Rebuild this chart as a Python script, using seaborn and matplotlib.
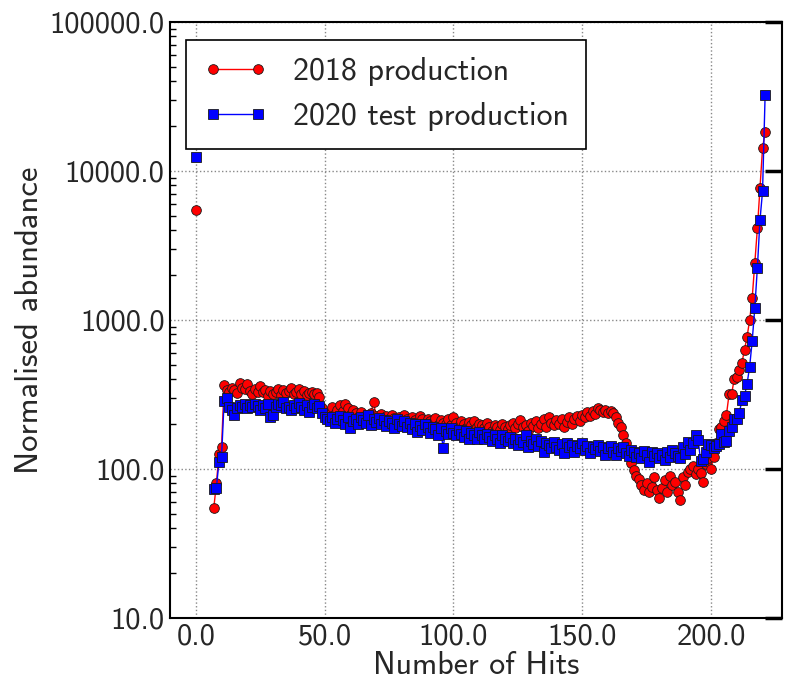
import numpy as np
import pandas as pd
import seaborn as sns
import matplotlib
matplotlib.use("Agg")
import matplotlib.pyplot as plt
from matplotlib.ticker import FormatStrFormatter, LogLocator, FixedLocator, NullLocator

# ---------------- data ----------------
series_names = ["2018 production", "2020 test production"]

hits_first = [0]
red_first = [5500]
blue_first = [12500]

hits_main = list(range(7, 222))  # 7 .. 221

red_main = [
    55, 80, 126, 140,
    368, 340, 330, 352, 338, 325, 380, 350, 342, 372,
    335, 318, 345, 330, 362, 328, 340, 310, 335, 318,
    330, 345, 315, 338, 322, 335, 348, 318, 330, 342,
    320, 334, 312, 326, 330, 318, 325, 305,
    255, 232,
    228, 240, 262, 235, 250, 268, 245, 272, 255, 230,
    248, 236, 225, 242, 218, 230, 212, 238, 280, 226,
    222, 235, 218, 228, 215, 232, 220, 210, 225, 212,
    230, 218, 208, 222, 212, 205, 226, 215, 200, 218,
    210, 204, 220, 196, 212, 205, 200, 215, 198, 224,
    205, 195, 210, 200, 188, 206, 196, 210, 192, 200,
    198, 188, 205, 192, 180, 198, 190, 184, 202, 192,
    185, 196, 205, 188, 200, 212, 190, 198, 180, 205,
    195, 210, 188, 202, 215, 192, 225, 205, 196, 212,
    200, 218, 190, 208, 222, 200, 215, 228, 210, 232,
    222, 240, 228, 245, 235, 255, 248, 242, 250, 238,
    245, 236, 222, 205, 190, 170, 150, 128, 110, 98,
    90, 86, 78, 72, 80, 70, 76, 88, 72, 64,
    75, 85, 70, 90, 78, 82, 70, 62, 88, 78,
    95, 100, 105, 92, 100, 94, 82, 108, 118, 100,
    121, 150, 185, 192, 211, 232, 317, 320, 400, 417,
    464, 518, 630, 775, 1000, 1416, 2400, 4120, 7650, 14200, 18200,
]

blue_main = [
    74, 75, 112, 120,
    288, 300, 262, 250, 232, 255, 268, 262, 272, 258,
    270, 262, 275, 265, 248, 270, 258, 275, 223, 232,
    262, 275, 268, 280, 255, 262, 248, 270, 258, 276,
    262, 250, 268, 240, 262, 272, 258, 266,
    238, 222,
    218, 210, 225, 205, 215, 228, 212, 200, 222, 189,
    210, 218, 200, 225, 212, 205, 230, 198, 215, 208,
    220, 200, 212, 195, 210, 205, 188, 215, 200, 195,
    210, 190, 205, 185, 200, 178, 195, 182, 200, 190,
    175, 192, 185, 170, 188, 139, 180, 172, 188, 175,
    168, 182, 172, 165, 180, 160, 175, 168, 160, 178,
    170, 158, 172, 165, 155, 168, 160, 150, 168, 160,
    155, 165, 150, 160, 145, 158, 152, 168, 140, 155,
    148, 160, 142, 155, 130, 150, 145, 138, 152, 140,
    135, 148, 128, 150, 140, 145, 130, 142, 138, 150,
    135, 142, 128, 140, 136, 145, 132, 140, 125, 138,
    142, 130, 125, 138, 132, 140, 128, 122, 135, 130,
    120, 128, 118, 132, 125, 112, 130, 122, 128, 118,
    125, 115, 130, 120, 135, 128, 122, 118, 140, 126,
    151, 135, 150, 168, 156, 113, 117, 130, 148, 146,
    138, 142, 148, 173, 152, 155, 181, 190, 218, 218,
    239, 290, 310, 374, 487, 728, 1210, 2250, 4670, 7300, 32300,
]

x_ticks = [0, 50, 100, 150, 200]
y_ticks = [10, 100, 1000, 10000, 100000]

# ---------------- table ----------------
rows = []
for name, first, main in [(series_names[0], red_first, red_main),
                          (series_names[1], blue_first, blue_main)]:
    for h, v in zip(hits_first, first):
        rows.append((h, v, name, 0))
    for h, v in zip(hits_main, main):
        rows.append((h, v, name, 1))
df = pd.DataFrame(rows, columns=["hits", "abundance", "sample", "segment"])

# ---------------- style ----------------
sns.set_theme(style="white")
plt.rcParams["font.family"] = ["cmss10", "DejaVu Sans"]
plt.rcParams["axes.unicode_minus"] = False

fig = plt.figure(figsize=(7.85, 6.79), dpi=100)
ax = fig.add_axes([0.2166, 0.0898, 0.7794, 0.8778])

sns.lineplot(
    data=df, x="hits", y="abundance", hue="sample", style="sample",
    units="segment", estimator=None, sort=True,
    palette=["#ff0000", "#0000ff"], markers=["o", "s"], dashes=False,
    markersize=7, markeredgecolor="#1a1a1a", markeredgewidth=0.6,
    linewidth=1.0, ax=ax,
)

ax.set_yscale("log")
ax.set_ylim(10, 100000)
ax.set_xlim(-10, 227.5)

ax.xaxis.set_major_locator(FixedLocator(x_ticks))
ax.yaxis.set_major_locator(FixedLocator(y_ticks))
ax.yaxis.set_minor_locator(LogLocator(base=10, subs=np.arange(2, 10)))
ax.xaxis.set_minor_locator(NullLocator())
ax.xaxis.set_major_formatter(FormatStrFormatter("%.1f"))
ax.yaxis.set_major_formatter(FormatStrFormatter("%.1f"))

ax.tick_params(which="major", direction="in", length=12, width=2.5,
               labelsize=22, top=False, right=True, color="black", pad=4)
ax.tick_params(which="minor", direction="in", length=4, width=1,
               left=True, right=False, top=False, bottom=False, color="black")

ax.grid(True, which="major", linestyle=":", color="#888888", linewidth=1.0)
for s in ax.spines.values():
    s.set_color("black")
    s.set_linewidth(1.5)

ax.set_xlabel("Number of Hits", fontsize=23, labelpad=0)
ax.set_ylabel("Normalised abundance", fontsize=23.5, labelpad=4)

handles, labels = ax.get_legend_handles_labels()
leg = ax.legend(handles, labels, loc="upper left", fontsize=23, numpoints=2,
                frameon=True, fancybox=False, framealpha=1.0,
                edgecolor="black", borderpad=0.55, handlelength=2.0,
                handletextpad=0.8, labelspacing=0.5, borderaxespad=0,
                bbox_to_anchor=(0.026, 0.97))
leg.get_frame().set_linewidth(1.2)
leg.set_title(None)

fig.savefig("out.png", dpi=100)
